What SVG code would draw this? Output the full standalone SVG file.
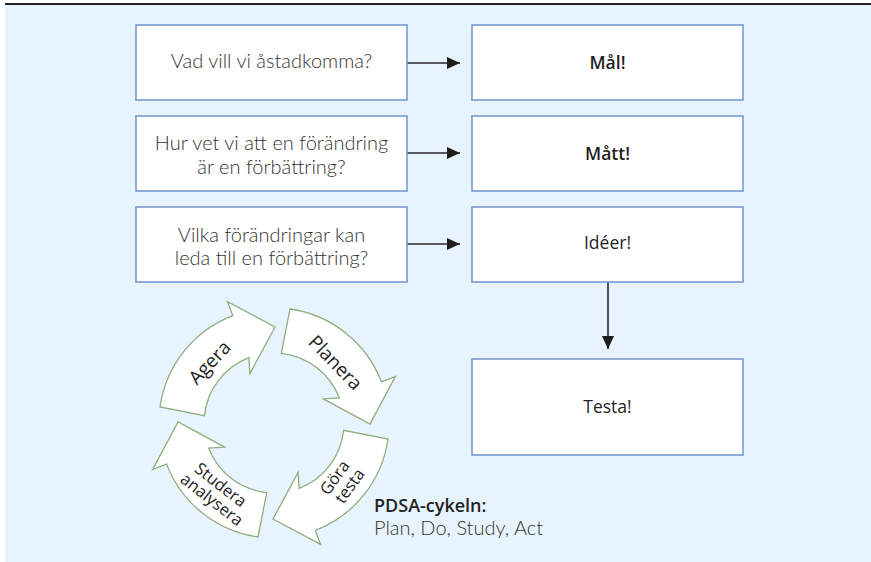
<svg xmlns="http://www.w3.org/2000/svg" xmlns:xlink="http://www.w3.org/1999/xlink" width="871" height="562" viewBox="0 0 871 562">
  <style>
    .box { fill: #ffffff; stroke: #7092c9; stroke-width: 1.5; }
    .q { font-family: "Lato", "Open Sans", "Liberation Sans", sans-serif; font-size: 20px; font-weight: 300; fill: #333; text-anchor: middle; }
    .a { font-family: "Open Sans", "Liberation Sans", sans-serif; font-size: 17.5px; fill: #1e1e1e; text-anchor: middle; }
    .strong { font-weight: 600; }
    .link { stroke: #2a2a2a; stroke-width: 1.6; fill: none; marker-end: url(#head); }
    .seg { fill: #ffffff; stroke: #8fae7e; stroke-width: 1.3; stroke-linejoin: miter; }
    .cyc { font-family: "Open Sans", "Liberation Sans", sans-serif; fill: #1e1e1e; text-anchor: middle; }
    .cap { font-family: "Open Sans", "Liberation Sans", sans-serif; font-size: 18px; fill: #222; }
    .sub { font-family: "Lato", "Open Sans", "Liberation Sans", sans-serif; font-size: 20px; font-weight: 300; fill: #333; }
  </style>
  <defs>
    <marker id="head" viewBox="0 0 13 12" refX="13" refY="6" markerWidth="13" markerHeight="12" markerUnits="userSpaceOnUse" orient="auto">
      <path d="M0,0 L13,6 L0,12 Z" fill="#1e1e1e"/>
    </marker>
    <!-- one quarter of the cycle; the other three are rotations about (274,423) -->
    <path id="quarter" class="seg" d="M160,407 A115,115 0 0 1 232.8,315.6 L227.4,301.6 L275,327 L249.9,373.6 L248.9,357.6 A70,70 0 0 0 204.4,415.7 Z"/>
  </defs>

  <!-- panel -->
  <rect x="5" y="5" width="866" height="557" fill="#e7f4fd"/>
  <line x1="5" y1="4" x2="871" y2="4" stroke="#222" stroke-width="2"/>

  <g id="connectors">
    <line class="link" x1="407" y1="63" x2="460" y2="63"/>
    <line class="link" x1="407" y1="153" x2="460" y2="153"/>
    <line class="link" x1="407" y1="244" x2="460" y2="244"/>
    <line class="link" x1="608" y1="282" x2="608" y2="349"/>
  </g>

  <g id="q1">
    <rect class="box" x="136" y="25" width="271" height="75"/>
    <text class="q" x="271.5" y="68">Vad vill vi åstadkomma?</text>
  </g>
  <g id="q2">
    <rect class="box" x="136" y="116" width="271" height="75"/>
    <text class="q" x="271.5" y="150">Hur vet vi att en förändring</text>
    <text class="q" x="271.5" y="174">är en förbättring?</text>
  </g>
  <g id="q3">
    <rect class="box" x="136" y="207" width="271" height="75"/>
    <text class="q" x="271.5" y="242">Vilka förändringar kan</text>
    <text class="q" x="271.5" y="265">leda till en förbättring?</text>
  </g>

  <g id="mal">
    <rect class="box" x="472" y="25" width="271" height="75"/>
    <text class="a strong" x="607.5" y="69">Mål!</text>
  </g>
  <g id="matt">
    <rect class="box" x="472" y="116" width="271" height="75"/>
    <text class="a strong" x="607.5" y="160">Mått!</text>
  </g>
  <g id="ideer">
    <rect class="box" x="472" y="207" width="271" height="75"/>
    <text class="a" x="607.5" y="249">Idéer!</text>
  </g>
  <g id="testa">
    <rect class="box" x="472" y="359" width="271" height="96"/>
    <text class="a" x="607.5" y="413">Testa!</text>
  </g>

  <!-- PDSA cycle -->
  <g id="agera">
    <use xlink:href="#quarter"/>
    <text class="cyc" font-size="19" transform="translate(210,363) rotate(-47)" y="6">Agera</text>
  </g>
  <g id="planera">
    <use xlink:href="#quarter" transform="rotate(90 274 423)"/>
    <text class="cyc" font-size="19" transform="translate(335,363) rotate(46)" y="6">Planera</text>
  </g>
  <g id="gora-testa">
    <use xlink:href="#quarter" transform="rotate(180 274 423)"/>
    <text class="cyc" font-size="16.5" transform="translate(343,481) rotate(-54)">
      <tspan x="0" y="-3">Göra</tspan>
      <tspan x="0" y="14">testa</tspan>
    </text>
  </g>
  <g id="studera">
    <use xlink:href="#quarter" transform="rotate(270 274 423)"/>
    <text class="cyc" font-size="16.5" transform="translate(217,493) rotate(38)">
      <tspan x="0" y="-3">Studera</tspan>
      <tspan x="0" y="14">analysera</tspan>
    </text>
  </g>

  <g id="legend">
    <text class="cap" x="374" y="512" font-weight="600">PDSA-cykeln:</text>
    <text class="sub" x="374" y="535">Plan, Do, Study, Act</text>
  </g>
</svg>
